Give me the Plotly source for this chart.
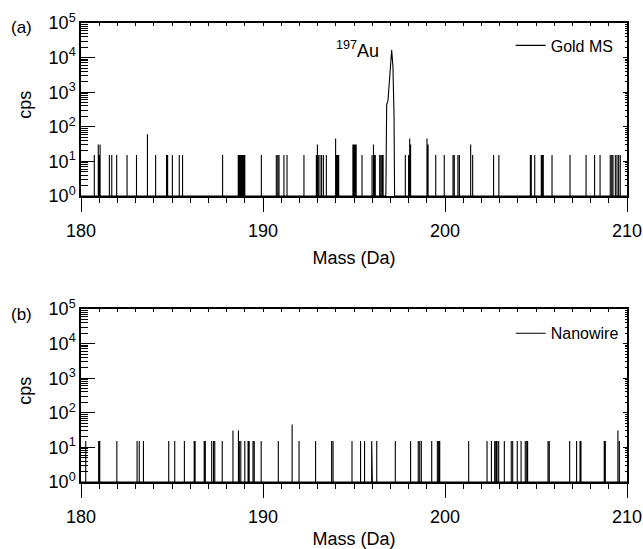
import plotly.graph_objects as go

# ---------------- data ----------------
mass_range = [180, 210]
x_tick_vals = [180, 190, 200, 210]
y_tick_vals = [1, 10, 100, 1000, 10000, 100000]
y_tick_text = ["10<sup>0</sup>", "10<sup>1</sup>", "10<sup>2</sup>",
               "10<sup>3</sup>", "10<sup>4</sup>", "10<sup>5</sup>"]
y_minor_vals = [d * 10 ** k for k in range(5) for d in range(2, 10)]
baseline_cps = 1

# (a) Gold MS: noise spikes
gold_spike_mass = [180.73, 180.95, 181.00, 181.05, 181.56, 181.69, 181.96, 182.53,
                   183.05, 183.65, 184.10, 184.70, 184.76, 185.02, 185.40, 185.58,
                   187.78, 188.64, 188.70, 188.76, 188.82, 188.88, 188.94, 189.00,
                   189.91, 190.73, 190.81, 190.88, 191.15, 191.32, 192.25, 192.93,
                   192.99, 193.04, 193.13, 193.22, 193.32, 193.48, 193.99, 194.05,
                   194.10, 194.16, 194.94, 195.00, 195.06, 195.12, 195.44, 195.99,
                   196.07, 196.12, 196.17, 196.41, 196.48, 196.55, 196.60,
                   197.82, 198.00, 198.06, 198.11, 199.01, 199.07, 199.49, 199.96,
                   200.44, 200.51, 200.71, 200.79, 201.41, 201.52, 202.67, 202.96,
                   204.69, 204.74, 204.93, 205.29, 205.35, 205.40, 205.88, 206.87,
                   207.75, 208.22, 208.52, 209.08, 209.16, 209.23, 209.36, 209.45,
                   209.54, 209.63]
gold_spike_cps = [15.4, 30.8, 15.4, 30.8, 15.4, 15.4, 15.4, 15.4,
                  15.4, 61, 15.4, 15.4, 15.4, 15.4, 15.4, 15.4,
                  15.4, 15.4, 15.4, 15.4, 15.4, 15.4, 15.4, 15.4,
                  15.4, 15.4, 15.4, 15.4, 15.4, 15.4, 15.4, 15.4,
                  30.8, 15.4, 15.4, 15.4, 15.4, 15.4, 46, 15.4,
                  15.4, 15.4, 30.8, 30.8, 30.8, 30.8, 15.4, 15.4,
                  30.8, 15.4, 15.4, 15.4, 15.4, 15.4, 15.4,
                  15.4, 15.4, 46, 30.8, 46, 30.8, 15.4, 15.4,
                  15.4, 15.4, 15.4, 15.4, 30.8, 15.4, 15.4, 15.4,
                  15.4, 15.4, 15.4, 15.4, 15.4, 15.4, 15.4, 15.4,
                  15.4, 15.4, 15.4, 15.4, 15.4, 15.4, 15.4, 15.4,
                  15.4, 15.4]

# (a) Gold MS: 197Au peak profile
gold_peak_mass = [196.75, 196.795, 196.87, 196.98, 197.07, 197.14, 197.20, 197.23]
gold_peak_cps = [1, 430, 590, 5450, 16600, 5450, 195, 1]

# (b) Nanowire: noise spikes
nano_spike_mass = [180.26, 180.97, 181.03, 181.97, 183.08, 183.20, 183.43, 184.82,
                   185.15, 185.68, 186.22, 186.27, 186.77, 186.83, 187.18, 187.28,
                   187.35, 187.76, 188.35, 188.65, 188.70, 188.78, 189.00, 189.18,
                   189.24, 189.45, 189.52, 189.90, 190.84, 191.60, 191.98, 192.89,
                   193.77, 193.85, 194.89, 195.36, 195.58, 195.97, 196.01, 196.25,
                   197.27, 198.11, 198.53, 198.61, 198.70, 199.27, 199.58, 199.65,
                   199.71, 201.30, 202.31, 202.55, 202.73, 202.80, 202.86, 202.95,
                   203.26, 203.64, 203.72, 203.97, 204.18, 204.41, 204.49, 204.54,
                   205.66, 205.73, 206.85, 207.23, 207.42, 207.47, 208.75, 208.81,
                   209.50, 209.58]
nano_spike_cps = [15.4, 15.4, 15.4, 15.4, 15.4, 15.4, 15.4, 15.4,
                  15.4, 15.4, 15.4, 15.4, 15.4, 15.4, 15.4, 15.4,
                  15.4, 15.4, 30.8, 30.8, 15.4, 15.4, 15.4, 15.4,
                  15.4, 15.4, 15.4, 15.4, 15.4, 46, 15.4, 15.4,
                  15.4, 15.4, 15.4, 15.4, 15.4, 15.4, 15.4, 15.4,
                  15.4, 15.4, 15.4, 15.4, 15.4, 15.4, 15.4, 15.4,
                  15.4, 15.4, 15.4, 15.4, 15.4, 15.4, 15.4, 15.4,
                  15.4, 15.4, 15.4, 15.4, 15.4, 15.4, 15.4, 15.4,
                  15.4, 15.4, 15.4, 15.4, 15.4, 15.4, 15.4, 15.4,
                  30.8, 15.4]


def build_spectrum(spike_mass, spike_cps, peak_mass=None, peak_cps=None):
    """Turn spikes (and an optional peak profile) into one continuous trace."""
    blocks = []
    for m, c in zip(spike_mass, spike_cps):
        blocks.append((m, [(m, baseline_cps), (m, c), (m, baseline_cps)]))
    if peak_mass:
        blocks.append((peak_mass[0], list(zip(peak_mass, peak_cps))))
    blocks.sort(key=lambda b: b[0])
    pts = [(mass_range[0], baseline_cps)]
    for _, seg in blocks:
        pts.extend(seg)
    pts.append((mass_range[1], baseline_cps))
    return [p[0] for p in pts], [p[1] for p in pts]


gx, gy = build_spectrum(gold_spike_mass, gold_spike_cps, gold_peak_mass, gold_peak_cps)
nx, ny = build_spectrum(nano_spike_mass, nano_spike_cps)

FONT = "Liberation Sans, Arial, Helvetica, sans-serif"

fig = go.Figure()
fig.add_trace(go.Scatter(x=gx, y=gy, mode="lines", name="Gold MS",
                         line=dict(color="black", width=1.1),
                         xaxis="x", yaxis="y", legend="legend"))
fig.add_trace(go.Scatter(x=nx, y=ny, mode="lines", name="Nanowire",
                         line=dict(color="black", width=1.1),
                         xaxis="x2", yaxis="y2", legend="legend2"))
# empty traces so the top/right tick-only axes are drawn
for xa, ya in [("x3", "y"), ("x", "y3"), ("x4", "y2"), ("x2", "y4")]:
    fig.add_trace(go.Scatter(x=[], y=[], xaxis=xa, yaxis=ya, showlegend=False,
                             hoverinfo="skip"))

top_dom = [0.6231, 1.0]
bot_dom = [0.0, 0.3769]


def xaxis_main(anchor):
    return dict(domain=[0, 1], anchor=anchor, range=mass_range, automargin=False,
                tickvals=x_tick_vals, ticks="outside", ticklen=14, tickwidth=1.3,
                tickcolor="black", showline=True, linecolor="black", linewidth=1.5,
                mirror=True, showgrid=False, zeroline=False, ticklabelstandoff=4,
                tickfont=dict(size=18, color="black", family=FONT),
                minor=dict(ticks="outside", ticklen=5, dtick=1, tickwidth=1.2,
                           tickcolor="black", showgrid=False),
                title=dict(text="Mass (Da)", standoff=11,
                           font=dict(size=18, color="black", family=FONT)))


def yaxis_main(anchor, dom):
    return dict(domain=dom, anchor=anchor, type="log", range=[0, 5], automargin=False,
                tickvals=y_tick_vals, ticktext=y_tick_text,
                ticks="inside", ticklen=14, tickwidth=1.3, tickcolor="black",
                showline=True, linecolor="black", linewidth=1.5, mirror=True,
                showgrid=False, zeroline=False,
                tickfont=dict(size=18, color="black", family=FONT),
                minor=dict(ticks="inside", ticklen=7, tickvals=y_minor_vals,
                           tickwidth=1, tickcolor="black", showgrid=False))


def xaxis_top(overlay, anchor):
    return dict(overlaying=overlay, anchor=anchor, side="top", range=mass_range,
                automargin=False, dtick=1, ticks="inside", ticklen=3, tickwidth=1.2,
                tickcolor="black", showticklabels=False, showline=False,
                showgrid=False, zeroline=False)


def yaxis_right(overlay, anchor):
    return dict(overlaying=overlay, anchor=anchor, side="right", type="log",
                range=[0, 5], automargin=False, tickvals=y_tick_vals,
                ticks="inside", ticklen=4, tickwidth=1, tickcolor="black",
                showticklabels=False, showline=False, showgrid=False, zeroline=False,
                minor=dict(ticks="inside", ticklen=2, tickvals=y_minor_vals,
                           tickwidth=1, tickcolor="black", showgrid=False))


fig.update_layout(
    width=643, height=549,
    margin=dict(l=81, r=16, t=23, b=67),
    paper_bgcolor="white", plot_bgcolor="white",
    font=dict(family=FONT, color="black", size=16),
    xaxis=xaxis_main("y"),
    yaxis=yaxis_main("x", top_dom),
    xaxis2=xaxis_main("y2"),
    yaxis2=yaxis_main("x2", bot_dom),
    xaxis3=xaxis_top("x", "y"),
    yaxis3=yaxis_right("y", "x"),
    xaxis4=xaxis_top("x2", "y2"),
    yaxis4=yaxis_right("y2", "x2"),
    legend=dict(x=0.787, y=0.988, xanchor="left", yanchor="top",
                bgcolor="rgba(0,0,0,0)", font=dict(size=16, family=FONT)),
    legend2=dict(x=0.787, y=0.361, xanchor="left", yanchor="top",
                 bgcolor="rgba(0,0,0,0)", font=dict(size=16, family=FONT)),
    showlegend=True,
    annotations=[
        dict(text="(a)", xref="paper", yref="paper", x=-0.109, y=0.99,
             xanchor="center", yanchor="middle", showarrow=False,
             font=dict(size=17, family=FONT)),
        dict(text="(b)", xref="paper", yref="paper", x=-0.109, y=bot_dom[1] - 0.011,
             xanchor="center", yanchor="middle", showarrow=False,
             font=dict(size=17, family=FONT)),
        dict(text="cps", xref="paper", yref="paper", x=-0.103,
             y=(top_dom[0] + top_dom[1]) / 2 + 0.01, textangle=-90,
             xanchor="center", yanchor="middle", showarrow=False,
             font=dict(size=18, family=FONT)),
        dict(text="cps", xref="paper", yref="paper", x=-0.103,
             y=(bot_dom[0] + bot_dom[1]) / 2 + 0.01, textangle=-90,
             xanchor="center", yanchor="middle", showarrow=False,
             font=dict(size=18, family=FONT)),
        dict(text="<sup>197</sup>Au", xref="x", yref="y", x=195.2, y=4.22,
             xanchor="center", yanchor="middle", showarrow=False,
             font=dict(size=18, family=FONT)),
    ],
)

fig.write_html(
    "out.html",
    config={"displayModeBar": False},
    post_script="document.body.style.margin='0';document.body.style.overflow='hidden';",
)
